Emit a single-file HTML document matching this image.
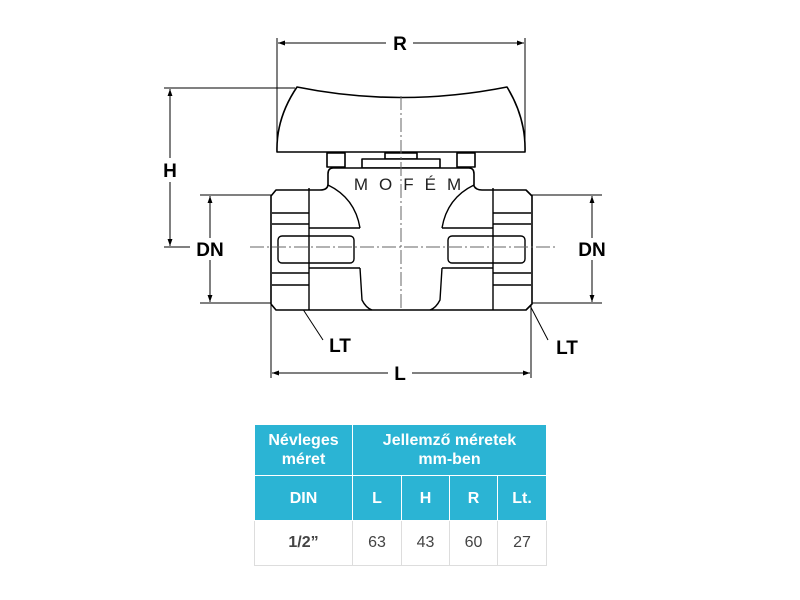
<!DOCTYPE html>
<html><head><meta charset="utf-8"><style>
body{margin:0;background:#fff;width:800px;height:600px;position:relative;overflow:hidden;font-family:"Liberation Sans",sans-serif}
svg{position:absolute;left:0;top:0}
table{position:absolute;left:254px;top:424px;border-collapse:collapse;font-family:"Liberation Sans",sans-serif}
td{text-align:center;padding:0;border:1px solid #fff}
.h{background:#2bb4d4;color:#fff;font-weight:bold;font-size:16px;line-height:19px}
.d{color:#444;font-size:16px;border:1px solid #ddd;border-top:none}
</style></head><body>
<svg width="800" height="600" viewBox="0 0 800 600">
<defs><marker id="a" viewBox="0 0 10 10" refX="10" refY="5" markerWidth="11" markerHeight="7" orient="auto-start-reverse" markerUnits="userSpaceOnUse"><path d="M0,1.5 L10,5 L0,8.5z" fill="#000"/></marker></defs>
<g stroke="#000" stroke-width="1" fill="none">
<line x1="277" y1="38" x2="277" y2="150"/><line x1="525" y1="38" x2="525" y2="150"/>
<line x1="278" y1="43" x2="386" y2="43" marker-start="url(#a)"/><line x1="413" y1="43" x2="524" y2="43" marker-end="url(#a)"/>
<line x1="164" y1="88" x2="295" y2="88"/><line x1="164" y1="247" x2="190" y2="247"/>
<line x1="170" y1="89" x2="170" y2="158" marker-start="url(#a)"/><line x1="170" y1="182" x2="170" y2="246" marker-end="url(#a)"/>
<line x1="200" y1="195" x2="272" y2="195"/><line x1="200" y1="303" x2="272" y2="303"/>
<line x1="210" y1="196" x2="210" y2="238" marker-start="url(#a)"/><line x1="210" y1="260" x2="210" y2="302" marker-end="url(#a)"/>
<line x1="531" y1="195" x2="602" y2="195"/><line x1="531" y1="303" x2="602" y2="303"/>
<line x1="592" y1="196" x2="592" y2="238" marker-start="url(#a)"/><line x1="592" y1="260" x2="592" y2="302" marker-end="url(#a)"/>
<line x1="271" y1="300" x2="271" y2="378"/><line x1="531" y1="300" x2="531" y2="378"/>
<line x1="272" y1="373" x2="388" y2="373" marker-start="url(#a)"/><line x1="412" y1="373" x2="530" y2="373" marker-end="url(#a)"/>
<line x1="293" y1="294" x2="323" y2="340" marker-start="url(#a)"/>
<line x1="524" y1="294" x2="548" y2="340" marker-start="url(#a)"/>
</g>
<g fill="#000" font-weight="bold" font-size="19" text-anchor="middle" font-family="Liberation Sans,sans-serif">
<text x="400" y="50">R</text><text x="170" y="177">H</text>
<text x="210" y="256">DN</text><text x="592" y="256">DN</text>
<text x="400" y="380">L</text><text x="340" y="352">LT</text><text x="567" y="354">LT</text>
</g>
<g stroke="#000" stroke-width="1.6" fill="#fff" stroke-linejoin="round">
<path d="M297,87 Q401,108 507,87 Q526,118 525,152 L277,152 Q276,118 297,87z"/>
<rect x="327" y="153" width="18" height="14"/><rect x="457" y="153" width="18" height="14"/>
<rect x="385" y="153" width="32" height="6"/><rect x="362" y="159" width="78" height="9"/>
<path d="M333,168 L469,168 Q474,168 474,174 L474,186 Q476,190 482,190 L526,190 L532,196 L532,304 L526,310 L276,310 L271,304 L271,196 L276,190 L320,190 Q328,190 328,184 L328,174 Q328,168 333,168z"/>
</g>
<g stroke="#000" stroke-width="1.4" fill="none">
<line x1="309" y1="188" x2="309" y2="310"/>
<line x1="272" y1="213" x2="309" y2="213"/><line x1="272" y1="224" x2="309" y2="224"/>
<line x1="272" y1="273" x2="309" y2="273"/><line x1="272" y1="285" x2="309" y2="285"/>
<line x1="309" y1="228" x2="360" y2="228"/><line x1="309" y1="268" x2="360" y2="268"/>
<path d="M328,185 Q355,198 360,228"/><path d="M360,268 L362,300 Q366,308 372,310"/>
<rect x="278" y="236" width="76" height="27" rx="4"/>
<line x1="493" y1="188" x2="493" y2="310"/>
<line x1="493" y1="213" x2="531" y2="213"/><line x1="493" y1="224" x2="531" y2="224"/>
<line x1="493" y1="273" x2="531" y2="273"/><line x1="493" y1="285" x2="531" y2="285"/>
<line x1="442" y1="228" x2="493" y2="228"/><line x1="442" y1="268" x2="493" y2="268"/>
<path d="M474,185 Q447,198 442,228"/><path d="M442,268 L440,300 Q436,308 430,310"/>
<rect x="448" y="236" width="77" height="27" rx="4"/>
</g>
<g stroke="#666" stroke-width="1" stroke-dasharray="14,3,2,3" fill="none">
<line x1="401" y1="96" x2="401" y2="310"/>
<line x1="250" y1="247" x2="555" y2="247"/>
</g>
<text x="413" y="190" font-size="17" fill="#222" text-anchor="middle" letter-spacing="11" font-family="Liberation Sans,sans-serif">MOFÉM</text>
</svg>
<table>
<tr style="height:51px"><td class="h" style="width:97px">Névleges<br>méret</td><td class="h" colspan="4">Jellemző méretek<br>mm-ben</td></tr>
<tr style="height:45px"><td class="h">DIN</td><td class="h" style="width:48px">L</td><td class="h" style="width:47px">H</td><td class="h" style="width:47px">R</td><td class="h" style="width:48px">Lt.</td></tr>
<tr style="height:45px"><td class="d" style="font-weight:bold">1/2”</td><td class="d">63</td><td class="d">43</td><td class="d">60</td><td class="d">27</td></tr>
</table>
</body></html>
